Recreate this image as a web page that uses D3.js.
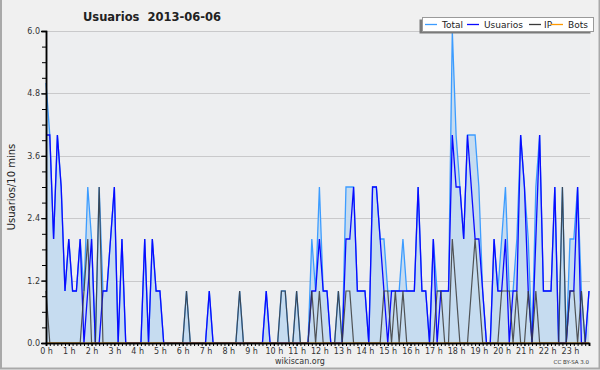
<!DOCTYPE html>
<html>
<head>
<meta charset="utf-8">
<script src="https://cdn.jsdelivr.net/npm/d3@7"></script>
<style>
  body { margin: 0; background: #f0f0f0; }
  svg { display: block; }
  text { font-family: "DejaVu Sans", sans-serif; fill: #222; }
</style>
</head>
<body>
<svg id="chart" width="600" height="370"></svg>
<script>
// one value per 10 minute slot, 144 slots for the day
const slots = d3.range(144);
const hourLabels = d3.range(24).map(h => h + ' h');
const seriesNames = ['Total', 'Usuarios', 'IP', 'Bots'];
const yMajor = [0, 1.2, 2.4, 3.6, 4.8, 6.0];

const total = [
  5,4,2,4,3,1,2,1,1,2, 1,3,2,0,3,1,1,2,3,0, 2,0,0,0,0,0,2,0,2,1,
  1,0,0,0,0,0,0,1,0,0, 0,0,0,1,0,0,0,0,0,0, 0,1,0,0,0,0,0,0,1,0,
  0,0,1,1,0,0,1,0,0,0, 2,1,3,1,1,0,0,1,0,3, 3,3,1,1,1,0,3,3,2,2,
  1,1,1,1,2,1,1,1,3,1, 1,0,2,1,1,1,1,6,4,3, 2,4,4,4,3,1,0,0,2,1,
  2,3,1,1,2,4,3,2,0,3, 4,1,1,1,3,0,3,0,2,2, 3,1,0,1
];
const usuarios = [
  4,4,2,4,3,1,2,1,1,2, 0,1,2,0,0,1,1,2,3,0, 2,0,0,0,0,0,2,0,2,1,
  1,0,0,0,0,0,0,0,0,0, 0,0,0,1,0,0,0,0,0,0, 0,0,0,0,0,0,0,0,1,0,
  0,0,0,0,0,0,0,0,0,0, 1,1,2,1,1,0,0,0,0,2, 2,3,1,1,1,0,3,3,2,1,
  0,1,1,1,1,1,1,1,3,1, 1,0,2,0,1,1,1,4,3,3, 2,4,3,2,2,1,0,0,2,1,
  1,2,0,1,1,4,3,1,0,2, 4,1,1,1,3,0,0,0,1,1, 3,0,0,1
];
const ip = [
  1,0,0,0,0,0,0,0,0,0, 1,2,0,0,3,0,0,0,0,0, 0,0,0,0,0,0,0,0,0,0,
  0,0,0,0,0,0,0,1,0,0, 0,0,0,0,0,0,0,0,0,0, 0,1,0,0,0,0,0,0,0,0,
  0,0,1,1,0,0,1,0,0,0, 1,0,1,0,0,0,0,1,0,1, 1,0,0,0,0,0,0,0,0,1,
  1,0,1,0,1,0,0,0,0,0, 0,0,0,1,1,0,0,2,1,0, 0,0,1,2,1,0,0,0,0,0,
  1,1,1,0,1,0,0,1,0,1, 0,0,0,0,0,0,3,0,1,1, 0,1,0,0
];
const bots = [
  0,0,0,0,0,0,0,0,0,0, 0,0,0,0,0,0,0,0,0,0, 0,0,0,0,0,0,0,0,0,0,
  0,0,0,0,0,0,0,0,0,0, 0,0,0,0,0,0,0,0,0,0, 0,0,0,0,0,0,0,0,0,0,
  0,0,0,0,0,0,0,0,0,0, 0,0,0,0,0,0,0,0,0,0, 0,0,0,0,0,0,0,0,0,0,
  0,0,0,0,0,0,0,0,0,0, 0,0,0,0,0,0,0,0,0,0, 0,0,0,0,0,0,0,0,0,0,
  0,0,0,0,0,0,0,0,0,0, 0,0,0,0,0,0,0,0,0,0, 0,0,0,0
];

const colors = { Total: '#3c9cff', Usuarios: '#0a0aff', IP: '#3a3a3a', Bots: '#ff9900' };

const svg = d3.select('#chart');
const plotL = 46, plotR = 589, plotT = 31, plotB = 343;

const x = d3.scaleLinear().domain([0, 143]).range([plotL, plotR]);
const y = d3.scaleLinear().domain([0, 6]).range([plotB, plotT]);

// frame
svg.append('rect').attr('width', 600).attr('height', 370).attr('fill', '#f0f0f0');
svg.append('path')
  .attr('d', 'M1,0V368.5H599.5V0')
  .attr('fill', 'none').attr('stroke', '#a9a9a9').attr('stroke-width', 2);

// plot background
svg.append('rect')
  .attr('x', plotL).attr('y', plotT)
  .attr('width', plotR - plotL + 1).attr('height', plotB - plotT)
  .attr('fill', '#edeef0');

// grid
svg.append('g').selectAll('line')
  .data(yMajor.slice(1))
  .enter().append('line')
  .attr('x1', plotL).attr('x2', plotR + 1)
  .attr('y1', d => Math.round(y(d)) + 0.5).attr('y2', d => Math.round(y(d)) + 0.5)
  .attr('stroke', '#c9c9cb').attr('stroke-width', 1);

// Total area
const area = d3.area()
  .x((d, i) => x(i))
  .y0(y(0))
  .y1(d => y(d));
svg.append('path').attr('d', area(total)).attr('fill', '#c6dcf0');

const line = d3.line().x((d, i) => x(i)).y(d => y(d));
[[total, 'Total', 1.3], [usuarios, 'Usuarios', 1.3], [ip, 'IP', 1.2], [bots, 'Bots', 1.2]]
  .forEach(s => {
    svg.append('path')
      .attr('d', line(s[0]))
      .attr('fill', 'none')
      .attr('stroke', colors[s[1]])
      .attr('stroke-width', s[2])
      .attr('stroke-opacity', s[1] === 'IP' ? 0.85 : 1);
  });

// y axis: minor ticks every 0.3, labels every 1.2
const yMinor = d3.axisLeft(y).tickValues(d3.range(0, 6.01, 0.3)).tickSize(4).tickFormat('');
const yAxis = d3.axisLeft(y).tickValues(yMajor).tickSize(5).tickPadding(1).tickFormat(d3.format('.1f'));
svg.append('g').attr('transform', `translate(${plotL},0)`).call(yMinor);
const gy = svg.append('g').attr('transform', `translate(${plotL},0)`).call(yAxis);
gy.selectAll('text').style('font-size', '8px').style('fill', '#333');

// x axis: tick every slot, label every hour
const xMinor = d3.axisBottom(x).tickValues(slots).tickSize(3).tickFormat('');
const xAxis = d3.axisBottom(x).tickValues(d3.range(0, 144, 6)).tickSize(3).tickPadding(2)
  .tickFormat((d, i) => hourLabels[i]);
svg.append('g').attr('transform', `translate(0,${plotB})`).call(xMinor);
const gx = svg.append('g').attr('transform', `translate(0,${plotB})`).call(xAxis);
gx.selectAll('text').style('font-size', '8px').style('fill', '#333');

svg.selectAll('.domain').attr('stroke', '#000').attr('stroke-width', 1.5);
svg.selectAll('.tick line').attr('stroke', '#000');

// titles
svg.append('text')
  .attr('x', 152).attr('y', 21)
  .attr('text-anchor', 'middle')
  .style('font-size', '11.5px').style('font-weight', 'bold')
  .style('white-space', 'pre')
  .text('Usuarios  2013-06-06');

svg.append('text')
  .attr('transform', 'translate(15,187) rotate(-90)')
  .attr('text-anchor', 'middle')
  .style('font-size', '10px')
  .text('Usuarios/10 mins');

svg.append('text')
  .attr('x', 300).attr('y', 364)
  .attr('text-anchor', 'middle')
  .style('font-size', '8px').style('fill', '#333')
  .text('wikiscan.org');

svg.append('text')
  .attr('x', 589).attr('y', 364)
  .attr('text-anchor', 'end')
  .style('font-size', '5.5px').style('fill', '#333')
  .text('CC BY-SA 3.0');

// legend
const lg = svg.append('g');
lg.append('rect').attr('x', 419.5).attr('y', 19.5).attr('width', 171).attr('height', 14).attr('fill', '#7a7a7a');
lg.append('rect').attr('x', 422.5).attr('y', 17.5).attr('width', 171).attr('height', 14)
  .attr('fill', '#fff').attr('stroke', '#9a9a9a');
const itemX = [425, 467, 529, 551];
const textX = [442, 484, 544, 568];
seriesNames.forEach((name, i) => {
  lg.append('line')
    .attr('x1', itemX[i]).attr('x2', itemX[i] + 12)
    .attr('y1', 24.5).attr('y2', 24.5)
    .attr('stroke', colors[name]).attr('stroke-width', 1.3);
  lg.append('text')
    .attr('x', textX[i]).attr('y', 28)
    .style('font-size', '9px')
    .text(name);
});
</script>
</body>
</html>
